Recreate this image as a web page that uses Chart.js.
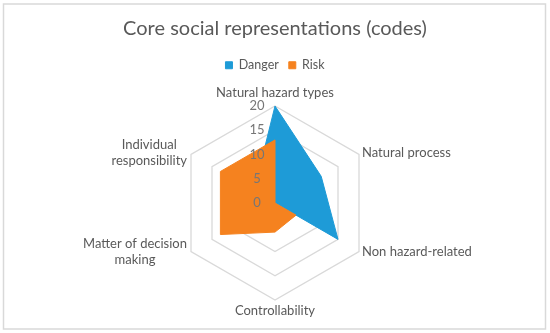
<!DOCTYPE html>
<html>
<head>
<meta charset="utf-8">
<script src="https://cdn.jsdelivr.net/npm/chart.js@4.4.0/dist/chart.umd.min.js"></script>
<style>
html,body{margin:0;padding:0;background:#fff;}
canvas{display:block;}
</style>
</head>
<body>
<canvas id="c" width="550" height="333"></canvas>
<script>
const categories = [
  'Natural hazard types',
  'Natural process',
  'Non hazard-related',
  'Controllability',
  ['Matter of decision', 'making'],
  ['Individual', 'responsibility']
];
const dangerValues = [20, 11, 15, 0, 2, 5];
const riskValues = [13, 0, 5, 6, 13, 13];
const tickValues = [0, 5, 10, 15, 20];
const seriesNames = ['Danger', 'Risk'];
const chartTitle = 'Core social representations (codes)';

const FONT = 'Lato';
const TEXT = '#595959';

const frame = {
  id: 'frame',
  beforeDraw(chart) {
    const ctx = chart.ctx;
    ctx.save();
    ctx.fillStyle = '#fff';
    ctx.fillRect(0, 0, chart.width, chart.height);
    ctx.strokeStyle = '#d9d9d9';
    ctx.lineWidth = 1.5;
    ctx.strokeRect(3.5, 4, 542, 325);
    ctx.restore();
  }
};

const legendSpacer = {
  id: 'legendSpacer',
  beforeInit(chart) {
    const fit = chart.legend.fit;
    chart.legend.fit = function () {
      fit.call(this);
      this.height += 25;
    };
  }
};

const customLabels = {
  id: 'customLabels',
  afterDatasetsDraw(chart) {
    const s = chart.scales.r;
    const ctx = chart.ctx;
    ctx.save();
    ctx.textBaseline = 'middle';
    // tick labels
    ctx.font = '13px ' + FONT;
    ctx.fillStyle = '#767676';
    ctx.textAlign = 'center';
    tickValues.forEach(v => {
      const d = s.getDistanceFromCenterForValue(v);
      ctx.fillText(String(v), s.xCenter - 18, s.yCenter - d);
    });
    // point labels
    const outer = s.getDistanceFromCenterForValue(s.max);
    ctx.fillStyle = TEXT;
    ctx.font = '13px ' + FONT;
    const lh = 16;
    chart.data.labels.forEach((lab, i) => {
      const lines = Array.isArray(lab) ? lab : [lab];
      const p = s.getPointPosition(i, outer);
      const dx = p.x - s.xCenter, dy = p.y - s.yCenter;
      let x, y;
      if (Math.abs(dx) < 1) {
        ctx.textAlign = 'center';
        x = p.x;
        y = dy < 0 ? p.y - 13 : p.y + 11;
      } else if (dx > 0) {
        ctx.textAlign = 'left';
        x = p.x + 3;
        y = p.y + (dy < 0 ? -2 : 0);
      } else {
        ctx.textAlign = 'center';
        const w = Math.max(...lines.map(t => ctx.measureText(t).width));
        x = p.x - 4 - w / 2;
        y = p.y + (dy < 0 ? -2 : 0);
      }
      lines.forEach((t, k) => {
        ctx.fillText(t, x, y + (k - (lines.length - 1) / 2) * lh);
      });
    });
    ctx.restore();
  }
};

new Chart(document.getElementById('c'), {
  type: 'radar',
  data: {
    labels: categories,
    datasets: [
      {
        label: seriesNames[0],
        data: dangerValues,
        backgroundColor: '#1E9BD7',
        borderColor: '#1E9BD7',
        borderWidth: 1,
        pointRadius: 0,
        fill: true,
        order: 1
      },
      {
        label: seriesNames[1],
        data: riskValues,
        backgroundColor: '#F5821F',
        borderColor: '#F5821F',
        borderWidth: 1,
        pointRadius: 0,
        fill: true,
        order: 0
      }
    ]
  },
  options: {
    responsive: false,
    devicePixelRatio: 1,
    animation: false,
    layout: { padding: { top: 8, bottom: 32, left: 0, right: 0 } },
    plugins: {
      title: {
        display: true,
        text: chartTitle,
        color: TEXT,
        font: { family: FONT, size: 20, weight: 'normal' },
        padding: { top: 9, bottom: 8 }
      },
      legend: {
        display: true,
        position: 'top',
        labels: {
          boxWidth: 7,
          boxHeight: 7,
          color: TEXT,
          font: { family: FONT, size: 12.5 },
          padding: 10,
          sort: (a, b) => a.datasetIndex - b.datasetIndex
        }
      },
      tooltip: { enabled: false }
    },
    scales: {
      r: {
        min: 0,
        max: 20,
        ticks: { stepSize: 5, display: false },
        grid: { color: '#d9d9d9', lineWidth: 1.3 },
        angleLines: { display: false },
        pointLabels: { display: false }
      }
    }
  },
  plugins: [frame, legendSpacer, customLabels]
});
</script>
</body>
</html>
